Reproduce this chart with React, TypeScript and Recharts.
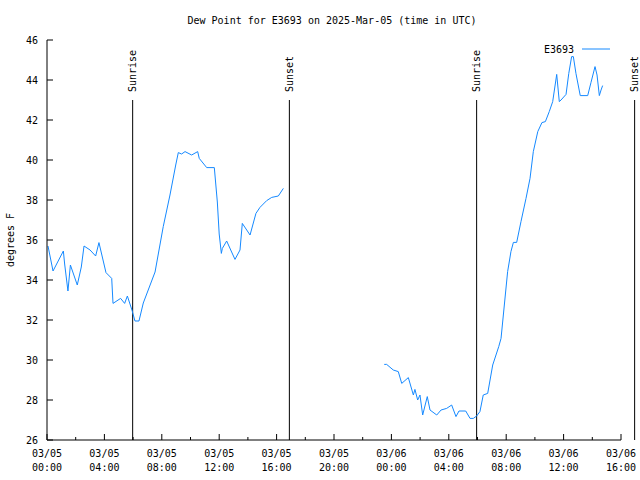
import { Customized, Line, LineChart, ReferenceLine, XAxis, YAxis } from "recharts";

// hours since 03/05 00:00 UTC
const day1Hours = [0.07, 0.42, 1.14, 1.23, 1.46, 1.63, 2.11, 2.39, 2.58, 3.0, 3.39, 3.62, 4.11, 4.51, 4.6, 5.13, 5.41, 5.6, 5.92, 6.13, 6.41, 6.71, 7.53, 8.1, 8.57, 8.97, 9.15, 9.38, 9.62, 10.08, 10.5, 10.61, 11.13, 11.66, 11.87, 12.0, 12.15, 12.22, 12.52, 13.1, 13.45, 13.61, 14.15, 14.56, 14.84, 15.31, 15.66, 16.12, 16.47];
const day1Dew = [35.7, 34.45, 35.45, 34.8, 33.45, 34.75, 33.75, 34.65, 35.7, 35.5, 35.2, 35.87, 34.37, 34.08, 32.83, 33.08, 32.83, 33.2, 32.5, 31.95, 31.95, 32.85, 34.4, 36.67, 38.25, 39.75, 40.37, 40.3, 40.42, 40.25, 40.42, 40.08, 39.62, 39.62, 37.9, 36.3, 35.33, 35.58, 35.95, 35.03, 35.5, 36.83, 36.25, 37.33, 37.63, 37.97, 38.13, 38.2, 38.58];

const day2Hours = [23.5, 23.67, 24.13, 24.48, 24.72, 25.18, 25.53, 25.64, 25.83, 25.99, 26.18, 26.5, 26.69, 27.16, 27.46, 27.85, 28.2, 28.5, 28.71, 29.18, 29.48, 29.71, 29.94, 30.17, 30.4, 30.71, 31.06, 31.48, 31.64, 31.87, 32.1, 32.33, 32.5, 32.73, 33.03, 33.38, 33.66, 33.89, 34.2, 34.49, 34.73, 35.0, 35.24, 35.52, 35.7, 35.82, 36.17, 36.36, 36.56, 36.68, 36.86, 37.16, 37.68, 37.91, 38.19, 38.33, 38.49, 38.61, 38.72];
const day2Dew = [29.78, 29.78, 29.5, 29.42, 28.83, 29.12, 28.25, 28.53, 28.0, 28.25, 27.25, 28.17, 27.5, 27.25, 27.5, 27.58, 27.75, 27.17, 27.45, 27.45, 27.08, 27.08, 27.2, 27.42, 28.25, 28.33, 29.75, 30.67, 31.08, 32.75, 34.42, 35.42, 35.88, 35.88, 36.92, 38.08, 39.08, 40.42, 41.42, 41.87, 41.92, 42.42, 42.92, 44.28, 42.92, 43.0, 43.28, 44.33, 45.17, 45.17, 44.33, 43.22, 43.22, 43.88, 44.67, 44.25, 43.22, 43.5, 43.72];

const xTicks = [0, 2, 4, 6, 8, 10, 12, 14, 16, 18, 20, 22, 24, 26, 28, 30, 32, 34, 36, 38, 40];
const yTicks = [26, 28, 30, 32, 34, 36, 38, 40, 42, 44, 46];

const sunNames = ["Sunrise", "Sunset", "Sunrise", "Sunset"];
const sunHours = [5.97, 16.89, 29.94, 40.95];

const data = [
  ...day1Hours.map((h, i) => ({ h, dew: day1Dew[i] })),
  { h: 20, dew: null },
  ...day2Hours.map((h, i) => ({ h, dew: day2Dew[i] })),
];

const FONT = "'DejaVu Sans Mono', monospace";
const BLUE = "#1589ff";

const pad = (n: number) => String(n).padStart(2, "0");

function BottomTick({ x, y, payload }: any) {
  const v = payload.value;
  const major = v % 4 === 0;
  const date = v < 24 ? "03/05" : "03/06";
  const time = `${pad(v % 24)}:00`;
  return (
    <g>
      <line x1={x} x2={x} y1={y} y2={y - (major ? 6 : 3)} stroke="#000" />
      {major && (
        <text x={x} y={y} textAnchor="middle" fontFamily={FONT} fontSize={10} fill="#000">
          <tspan x={x} dy={17}>{date}</tspan>
          <tspan x={x} dy={14}>{time}</tspan>
        </text>
      )}
    </g>
  );
}

function TopTick({ x, y, payload }: any) {
  const major = payload.value % 4 === 0;
  return <line x1={x} x2={x} y1={y} y2={y + (major ? 6 : 3)} stroke="#000" />;
}

function LeftTick({ x, y, payload }: any) {
  return (
    <g>
      <line x1={x} x2={x + 6} y1={y} y2={y} stroke="#000" />
      <text x={x - 9} y={y} textAnchor="end" dominantBaseline="central" fontFamily={FONT} fontSize={10} fill="#000">
        {payload.value}
      </text>
    </g>
  );
}

function RightTick({ x, y }: any) {
  return <line x1={x} x2={x - 6} y1={y} y2={y} stroke="#000" />;
}

function SunLabel({ viewBox, text }: any) {
  const x = viewBox.x;
  return (
    <text
      x={x}
      y={92}
      transform={`rotate(-90, ${x}, 92)`}
      textAnchor="start"
      dominantBaseline="central"
      fontFamily={FONT}
      fontSize={10}
      fill="#000"
    >
      {text}
    </text>
  );
}

function Overlay() {
  return (
    <g>
      <text x={332} y={20} textAnchor="middle" dominantBaseline="central" fontFamily={FONT} fontSize={10} fill="#000">
        Dew Point for E3693 on 2025-Mar-05 (time in UTC)
      </text>
      <text
        x={10}
        y={240}
        transform="rotate(-90, 10, 240)"
        textAnchor="middle"
        dominantBaseline="central"
        fontFamily={FONT}
        fontSize={10}
        fill="#000"
      >
        degrees F
      </text>
      <text x={574} y={49} textAnchor="end" dominantBaseline="central" fontFamily={FONT} fontSize={10} fill="#000">
        E3693
      </text>
      <line x1={582} x2={610} y1={49} y2={49} stroke={BLUE} />
    </g>
  );
}

export default function App() {
  return (
    <div style={{ position: "absolute", left: 0, top: 0, width: 640, height: 480, background: "#fff" }}>
      <LineChart width={640} height={480} data={data} margin={{ top: 40, right: 19, bottom: 0, left: 0 }}>
        <XAxis
          dataKey="h"
          type="number"
          domain={[0, 40]}
          ticks={xTicks}
          interval={0}
          height={40}
          tickSize={0}
          tickMargin={0}
          axisLine={{ stroke: "#000" }}
          tickLine={false}
          tick={(p: any) => <BottomTick {...p} />}
        />
        <XAxis
          xAxisId="top"
          orientation="top"
          dataKey="h"
          type="number"
          domain={[0, 40]}
          ticks={xTicks}
          interval={0}
          height={0}
          tickSize={0}
          tickMargin={0}
          axisLine={{ stroke: "#000" }}
          tickLine={false}
          tick={(p: any) => <TopTick {...p} />}
        />
        <YAxis
          type="number"
          domain={[26, 46]}
          ticks={yTicks}
          interval={0}
          width={47}
          tickSize={0}
          tickMargin={0}
          axisLine={{ stroke: "#000" }}
          tickLine={false}
          tick={(p: any) => <LeftTick {...p} />}
        />
        <YAxis
          yAxisId="right"
          orientation="right"
          type="number"
          domain={[26, 46]}
          ticks={yTicks}
          interval={0}
          width={0}
          tickSize={0}
          tickMargin={0}
          axisLine={{ stroke: "#000" }}
          tickLine={false}
          tick={(p: any) => <RightTick {...p} />}
        />
        {sunHours.map((h, i) => (
          <ReferenceLine
            key={i}
            segment={[{ x: h, y: 26 }, { x: h, y: 43 }]}
            stroke="#000"
            strokeWidth={1}
            ifOverflow="visible"
            label={(p: any) => <SunLabel {...p} text={sunNames[i]} />}
          />
        ))}
        <Line
          type="linear"
          dataKey="dew"
          stroke={BLUE}
          strokeWidth={1}
          dot={false}
          connectNulls={false}
          isAnimationActive={false}
        />
        <Customized component={<Overlay />} />
      </LineChart>
    </div>
  );
}
